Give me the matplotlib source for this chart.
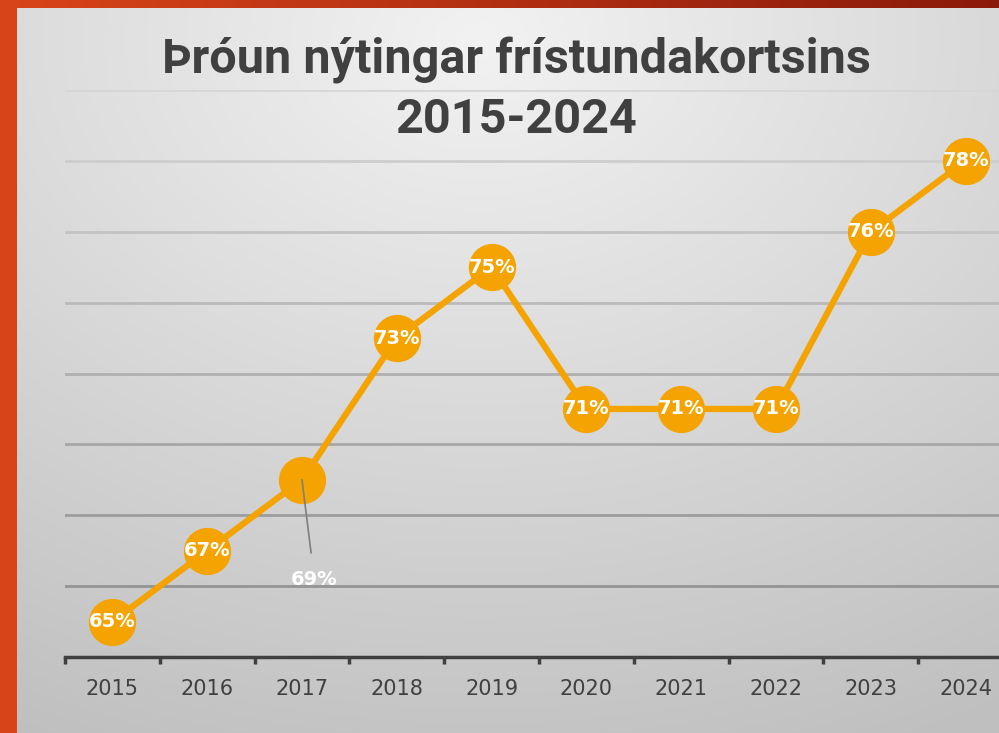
import numpy as np
import matplotlib.pyplot as plt

years = ['2015', '2016', '2017', '2018', '2019', '2020', '2021', '2022', '2023', '2024']
usage = [65, 67, 69, 73, 75, 71, 71, 71, 76, 78]
labels = ['65%', '67%', '69%', '73%', '75%', '71%', '71%', '71%', '76%', '78%']
title_1 = 'Þróun nýtingar frístundakortsins'
title_2 = '2015-2024'

W, H = 999, 733
fig = plt.figure(figsize=(W / 100, H / 100), dpi=100)

# slide background: grey radial gradient
bg = fig.add_axes([0, 0, 1, 1])
bg.set_axis_off()
yy, xx = np.mgrid[0:H, 0:W]
r = np.sqrt(((xx - 480) / W) ** 2 + ((yy - 40) / H) ** 2)
shade = 0.95 - 0.20 * np.clip(r / 1.05, 0, 1)
bg.imshow(np.dstack([shade, shade, shade]), extent=[0, W, H, 0], aspect='auto')
# orange/red frame on left and top
top = np.linspace(0, 1, W)
c0 = np.array([0.85, 0.27, 0.10])
c1 = np.array([0.54, 0.10, 0.04])
strip = c0[None, :] * (1 - top[:, None]) + c1[None, :] * top[:, None]
bg.imshow(strip[None, :, :], extent=[0, W, 8, 0], aspect='auto')
bg.add_patch(plt.Rectangle((0, 0), 17, H, color='#D8441A', lw=0))
bg.set_xlim(0, W)
bg.set_ylim(H, 0)

ax = fig.add_axes([65 / W, 76 / H, 948 / W, 567 / H])
ax.patch.set_alpha(0)
x = np.arange(len(years))
ax.set_xlim(-0.5, 9.5)
ax.set_ylim(64, 80)

# gridlines, lighter towards top
for g in range(66, 81, 2):
    t = (g - 66) / 14
    c = 0.58 + 0.26 * t
    ax.axhline(g, color=(c, c, c), lw=2.0, zorder=1)

orange = '#F4A300'
ax.plot(x, usage, color=orange, lw=4.5, marker='o', markersize=33,
        markerfacecolor=orange, markeredgecolor=orange, zorder=3, clip_on=False)

for i, (v, lab) in enumerate(zip(usage, labels)):
    if lab == '69%':
        ax.annotate(lab, xy=(i, v), xytext=(i + 0.13, v - 2.8), ha='center', va='center',
                    color='white', fontsize=14, fontweight='bold',
                    arrowprops=dict(arrowstyle='-', color='#7f7f7f', lw=1.2, shrinkA=10, shrinkB=0),
                    zorder=4)
    else:
        ax.text(i, v, lab, ha='center', va='center', color='white',
                fontsize=14, fontweight='bold', zorder=4)

for s in ['top', 'right', 'left']:
    ax.spines[s].set_visible(False)
ax.spines['bottom'].set_color('#404040')
ax.spines['bottom'].set_linewidth(2.5)
ax.set_yticks([])
ax.set_xticks(x)
ax.set_xticklabels(years, fontsize=15, color='#404040')
ax.tick_params(axis='x', which='major', length=0, pad=16)
ax.set_xticks(np.arange(-0.5, 10, 1), minor=True)
ax.tick_params(axis='x', which='minor', length=5, width=2.5, color='#404040', direction='out')

fig.text(516 / W, 1 - 61 / H, title_1, ha='center', va='center', fontsize=35,
         fontweight='bold', color='#404040', family=['Roboto', 'DejaVu Sans'])
fig.text(516 / W, 1 - 120 / H, title_2, ha='center', va='center', fontsize=35,
         fontweight='bold', color='#404040', family=['Roboto', 'DejaVu Sans'])

plt.savefig('out.png', dpi=100)
